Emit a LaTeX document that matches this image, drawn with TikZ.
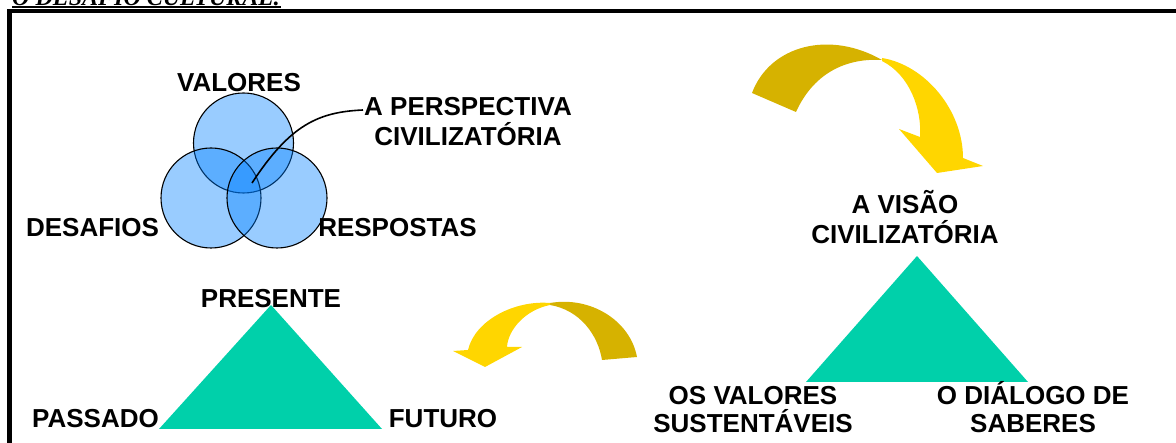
\documentclass[tikz,border=0pt]{standalone}
\usepackage{fontspec}
\setmainfont{Liberation Sans}
\newfontfamily\titlefont{Liberation Serif}
\definecolor{circblue}{RGB}{0,128,255}
\definecolor{tricol}{RGB}{0,208,170}
\definecolor{darkgold}{RGB}{214,178,0}
\definecolor{brightyel}{RGB}{255,214,0}
\begin{document}
\begin{tikzpicture}[x=1pt,y=-1pt,
  lbl/.style={font=\bfseries\fontsize{26}{30}\selectfont, inner sep=0pt, align=center},
  lbltight/.style={font=\bfseries\fontsize{26}{28}\selectfont, inner sep=0pt, align=center},
  venn/.style={draw=black, line width=1.1pt, fill=circblue, fill opacity=0.4},
  tri/.style={fill=tricol},
  backhalf/.style={fill=darkgold},
  fronthalf/.style={fill=brightyel}]
\useasboundingbox (0,0) rectangle (1176,443);
\clip (0,0) rectangle (1176,443);
% title and frame
\node[anchor=base west, inner sep=0pt, font=\titlefont\bfseries\itshape\fontsize{24}{28}\selectfont] (title) at (12,5.5) {O DESAFIO CULTURAL:};
\draw[line width=1.5pt] ([yshift=-1.5pt]title.base west) -- ([yshift=-1.5pt]title.base east);
\draw[line width=4.5pt] (9.5,460) -- (9.5,11) -- (1190,11);
% Venn circles
\node[venn, circle, minimum size=100pt, inner sep=0pt] (cval) at (243.5,143) {};
\node[venn, circle, minimum size=100pt, inner sep=0pt] (cdes) at (211,198) {};
\node[venn, circle, minimum size=100pt, inner sep=0pt] (cres) at (277,198) {};
\node[lbl, anchor=base] (valores) at (239,92) {VALORES};
\node[lbl, anchor=base] (desafios) at (92.5,237) {DESAFIOS};
\node[lbl, anchor=base] (respostas) at (397.5,237) {RESPOSTAS};
\node[lbl, anchor=base] (persp) at (468,146) {A PERSPECTIVA\\CIVILIZATÓRIA};
\coordinate (hub) at (252,183);
\coordinate (perspend) at (363,110);
\draw[line width=1.6pt] (hub) .. controls (290,125) and (318,112) .. (perspend);
% top curved arrow
\fill[backhalf] (752,93) .. controls (770,45) and (830,30) .. (882,60)
  .. controls (850,58) and (815,70) .. (796,112) -- cycle;
\fill[fronthalf] (882,58) .. controls (925,65) and (963,110) .. (963,158)
  -- (983,166) -- (937,173) -- (899,129) -- (920,137)
  .. controls (922,110) and (910,75) .. (882,61) -- cycle;
% bottom curved arrow
\fill[backhalf] (550,303) .. controls (590,296) and (630,320) .. (637,357)
  -- (602,360) .. controls (598,335) and (580,310) .. (550,305) -- cycle;
\fill[fronthalf] (550,303) .. controls (515,300) and (475,320) .. (468,350)
  -- (453,351) -- (485,367) -- (522,347) -- (507,347)
  .. controls (508,330) and (525,310) .. (550,305) -- cycle;
% left triangle
\fill[tri] (271,305) -- (382,429) -- (159,429) -- cycle;
\node[lbl, anchor=base] (presente) at (271,308) {PRESENTE};
\node[lbl, anchor=base] (passado) at (95.5,428) {PASSADO};
\node[lbl, anchor=base] (futuro) at (443,428) {FUTURO};
% right triangle
\fill[tri] (917,256) -- (1028,382) -- (806,382) -- cycle;
\node[lbl, anchor=base] (visao) at (905,244) {A VISÃO\\CIVILIZATÓRIA};
\node[lbltight, anchor=base] (osval) at (753,433) {OS VALORES\\SUSTENTÁVEIS};
\node[lbltight, anchor=base] (dialogo) at (1033,433) {O DIÁLOGO DE\\SABERES};
\end{tikzpicture}
\end{document}
